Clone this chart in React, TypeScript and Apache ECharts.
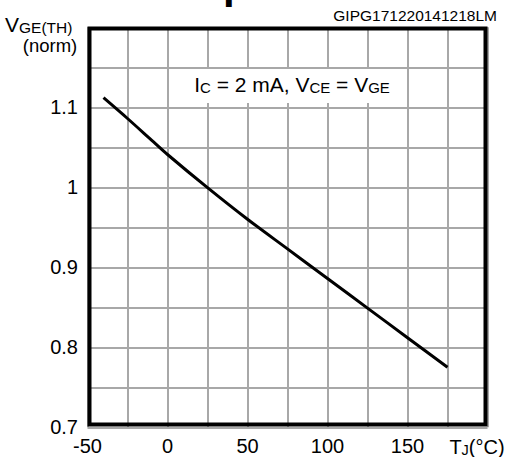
import React, { useEffect, useRef } from "react";
import * as echarts from "echarts";

const tempC = [-40, -25, -10, 0, 25, 50, 75, 100, 125, 150, 175];
const vgeNorm = [1.112, 1.086, 1.059, 1.041, 0.9995, 0.96, 0.923, 0.886, 0.849, 0.812, 0.775];
const xTicks = [-50, 0, 50, 100, 150];
const yTicks = [0.7, 0.8, 0.9, 1, 1.1];

const FONT = "'Liberation Sans', Arial, sans-serif";

export default function App() {
  const ref = useRef<HTMLDivElement>(null);
  useEffect(() => {
    if (!ref.current) return;
    const chart = echarts.init(ref.current, null, { renderer: "svg" });
    const data = tempC.map((t, i) => [t, vgeNorm[i]]);
    chart.setOption({
      animation: false,
      backgroundColor: "#fff",
      textStyle: { fontFamily: FONT },
      grid: { left: 87.5, right: 24.5, top: 27.3, bottom: 29.7 },
      xAxis: {
        type: "value",
        min: -50,
        max: 200,
        interval: 25,
        axisLine: { show: false },
        axisTick: { show: false },
        splitLine: { show: true, lineStyle: { color: "#a8a8a8", width: 2 } },
        axisLabel: {
          margin: 9,
          color: "#000",
          fontSize: 20,
          fontFamily: FONT,
          formatter: (v: number) => (xTicks.includes(v) ? String(v) : ""),
        },
      },
      yAxis: {
        type: "value",
        min: 0.7,
        max: 1.2,
        interval: 0.05,
        axisLine: { show: false },
        axisTick: { show: false },
        splitLine: { show: true, lineStyle: { color: "#a8a8a8", width: 2 } },
        axisLabel: {
          margin: 9.5,
          color: "#000",
          fontSize: 20,
          fontFamily: FONT,
          formatter: (v: number) => {
            const r = Number(v.toFixed(2));
            return yTicks.some((t) => Math.abs(t - r) < 1e-6) ? String(Number(r.toFixed(1))) : "";
          },
        },
      },
      series: [
        {
          type: "line",
          data,
          smooth: 0.3,
          symbol: "none",
          lineStyle: { color: "#000", width: 3 },
          z: 5,
        },
      ],
      graphic: [
        {
          type: "rect",
          z: 100,
          shape: { x: 89.5, y: 28.5, width: 396, height: 396 },
          style: { fill: "none", stroke: "#000", lineWidth: 4 },
        },
        {
          type: "rect",
          z: 50,
          shape: { x: 188.5, y: 69, width: 208, height: 34 },
          style: { fill: "#fff" },
        },
        {
          type: "text",
          z: 60,
          x: 292,
          y: 84,
          style: {
            text: "{a|I}{s|C}{a| = 2 mA, V}{s|CE}{a| = V}{s|GE}",
            align: "center",
            verticalAlign: "middle",
            fill: "#000",
            rich: {
              a: { fontSize: 21, fontFamily: FONT, lineHeight: 22, verticalAlign: "bottom", fill: "#000" },
              s: { fontSize: 15, fontFamily: FONT, lineHeight: 21, verticalAlign: "bottom", fill: "#000" },
            },
          },
        },
        {
          type: "text",
          z: 60,
          x: 497,
          y: 15,
          style: {
            text: "GIPG171220141218LM",
            align: "right",
            verticalAlign: "middle",
            fontSize: 15.5,
            fontFamily: FONT,
            fill: "#000",
          },
        },
        {
          type: "text",
          z: 60,
          x: 5,
          y: 26,
          style: {
            text: "{a|V}{s|GE(TH)}",
            align: "left",
            verticalAlign: "middle",
            rich: {
              a: { fontSize: 21, fontFamily: FONT, lineHeight: 18, verticalAlign: "bottom", fill: "#000" },
              s: { fontSize: 15.5, fontFamily: FONT, lineHeight: 17, verticalAlign: "bottom", fill: "#000" },
            },
          },
        },
        {
          type: "text",
          z: 60,
          x: 50,
          y: 45,
          style: {
            text: "(norm)",
            align: "center",
            verticalAlign: "middle",
            fontSize: 18.5,
            lineHeight: 18,
            fontFamily: FONT,
            fill: "#000",
          },
        },
        {
          type: "text",
          z: 60,
          x: 477,
          y: 446,
          style: {
            text: "{a|T}{s|J}{a|(°C)}",
            align: "center",
            verticalAlign: "middle",
            rich: {
              a: { fontSize: 20, fontFamily: FONT, lineHeight: 22, verticalAlign: "bottom", fill: "#000" },
              s: { fontSize: 14.5, fontFamily: FONT, lineHeight: 21, verticalAlign: "bottom", fill: "#000" },
            },
          },
        },
        {
          type: "text",
          z: 60,
          x: 223,
          y: 4,
          style: {
            text: "p",
            align: "left",
            verticalAlign: "bottom",
            fontSize: 42,
            fontWeight: "bold",
            fontFamily: FONT,
            fill: "#000",
          },
        },
      ],
    });
    return () => chart.dispose();
  }, []);
  return <div ref={ref} style={{ width: 512, height: 457, position: "absolute", left: 0, top: 0 }} />;
}
